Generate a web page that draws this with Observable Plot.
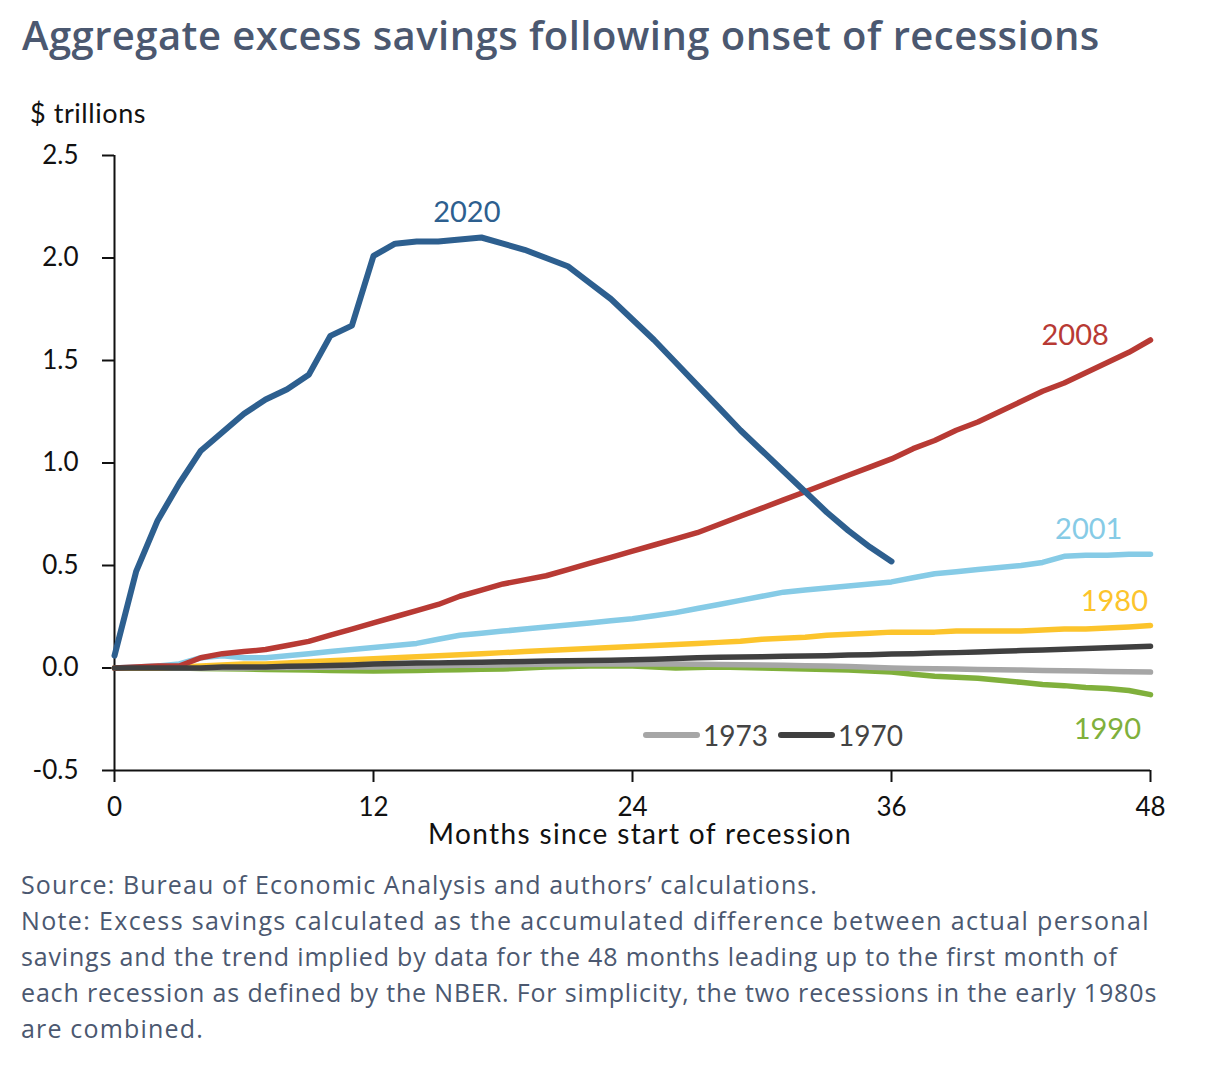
<!DOCTYPE html>
<html>
<head>
<meta charset="utf-8">
<script src="https://cdn.jsdelivr.net/npm/d3@7"></script>
<script src="https://cdn.jsdelivr.net/npm/@observablehq/plot@0.6"></script>
<style>
  html, body { margin: 0; padding: 0; background: #fff; }
  body { width: 1216px; height: 1074px; position: relative; overflow: hidden; font-family: Lato, "Noto Sans", sans-serif; }
  .abs { position: absolute; white-space: nowrap; }
  .fit { display: inline-block; white-space: nowrap; }
  #title { left: 22px; top: 10px; font-family: "Open Sans", Lato, sans-serif; font-size: 40px; font-weight: 600; color: #4b5870; line-height: 50px; }
  #ylab { left: 30px; top: 97px; font-size: 27px; color: #111; line-height: 32px; }
  #xlab { left: 428px; top: 816px; font-size: 28px; color: #111; line-height: 34px; }
  #caption { left: 21px; top: 866px; font-family: "Open Sans", Lato, sans-serif; font-size: 25px; color: #4b5870; line-height: 36px; }
  #caption .fit { display: block; width: max-content; }
  #legend { left: 643px; top: 718px; font-size: 28px; color: #444; line-height: 34px; display: flex; align-items: center; }
  .sw { display: inline-block; width: 57px; height: 6px; border-radius: 3px; }
  #chart { position: absolute; left: 0; top: 140px; }
</style>
</head>
<body>
<div id="title" class="abs"><span class="fit" data-w="1078">Aggregate excess savings following onset of recessions</span></div>
<div id="ylab" class="abs"><span class="fit" data-w="116">$ trillions</span></div>
<div id="chart"></div>
<div id="xlab" class="abs"><span class="fit" data-w="424">Months since start of recession</span></div>
<div id="legend" class="abs"><span class="sw" style="background:#a6a6a6"></span><span style="margin:0 10px 0 3px">1973</span><span class="sw" style="background:#404040"></span><span style="margin-left:3px">1970</span></div>
<div id="caption" class="abs"><span class="fit" data-w="797">Source: Bureau of Economic Analysis and authors’ calculations.</span><span class="fit" data-w="1129">Note: Excess savings calculated as the accumulated difference between actual personal</span><span class="fit" data-w="1097">savings and the trend implied by data for the 48 months leading up to the first month of</span><span class="fit" data-w="1136">each recession as defined by the NBER. For simplicity, the two recessions in the early 1980s</span><span class="fit" data-w="183">are combined.</span></div>
<script>
// Months since start of recession (0..48)
const months = d3.range(0, 49);
const xTicks = [0, 12, 24, 36, 48];
const yTicks = [-0.5, 0, 0.5, 1.0, 1.5, 2.0, 2.5];

// $ trillions
const s2020 = [0.06,0.47,0.72,0.90,1.06,1.15,1.24,1.31,1.36,1.43,1.62,1.67,2.01,2.07,2.08,2.08,2.09,2.10,2.07,2.04,2.00,1.96,1.88,1.80,1.70,1.60,1.49,1.38,1.27,1.16,1.06,0.96,0.86,0.76,0.67,0.59,0.52];
const s2008 = [0,0.005,0.01,0.01,0.05,0.07,0.08,0.09,0.11,0.13,0.16,0.19,0.22,0.25,0.28,0.31,0.35,0.38,0.41,0.43,0.45,0.48,0.51,0.54,0.57,0.60,0.63,0.66,0.70,0.74,0.78,0.82,0.86,0.90,0.94,0.98,1.02,1.07,1.11,1.16,1.20,1.25,1.30,1.35,1.39,1.44,1.49,1.54,1.60];
const s2001 = [0,0.005,0.01,0.02,0.05,0.06,0.05,0.05,0.06,0.07,0.08,0.09,0.10,0.11,0.12,0.14,0.16,0.17,0.18,0.19,0.20,0.21,0.22,0.23,0.24,0.255,0.27,0.29,0.31,0.33,0.35,0.37,0.38,0.39,0.40,0.41,0.42,0.44,0.46,0.47,0.48,0.49,0.50,0.515,0.545,0.55,0.55,0.555,0.555];
const s1980 = [0,0,0,0.005,0.01,0.015,0.02,0.02,0.025,0.03,0.035,0.04,0.045,0.05,0.055,0.06,0.065,0.07,0.075,0.08,0.085,0.09,0.095,0.10,0.105,0.11,0.115,0.12,0.125,0.13,0.14,0.145,0.15,0.16,0.165,0.17,0.175,0.175,0.175,0.18,0.18,0.18,0.18,0.185,0.19,0.19,0.195,0.20,0.207];
const s1970 = [0,0,0,0,0,0.005,0.005,0.005,0.008,0.01,0.012,0.015,0.02,0.022,0.024,0.025,0.027,0.028,0.03,0.032,0.034,0.035,0.037,0.038,0.04,0.043,0.046,0.05,0.052,0.054,0.055,0.057,0.058,0.06,0.063,0.065,0.068,0.07,0.073,0.075,0.078,0.082,0.085,0.088,0.092,0.095,0.099,0.103,0.106];
const s1973 = [0,0,0,0,0,0,0,0.002,0.003,0.004,0.004,0.005,0.005,0.007,0.009,0.011,0.013,0.014,0.015,0.017,0.018,0.019,0.02,0.02,0.02,0.02,0.019,0.018,0.017,0.016,0.015,0.013,0.011,0.01,0.007,0.004,0,-0.002,-0.004,-0.005,-0.007,-0.008,-0.01,-0.012,-0.013,-0.015,-0.017,-0.018,-0.02];
const s1990 = [0,0,0,0,-0.002,-0.004,-0.005,-0.007,-0.009,-0.01,-0.012,-0.014,-0.015,-0.014,-0.012,-0.01,-0.008,-0.006,-0.005,0,0.005,0.007,0.01,0.01,0.01,0.005,0,0.003,0.005,0.002,0,-0.002,-0.005,-0.007,-0.01,-0.015,-0.02,-0.03,-0.04,-0.045,-0.05,-0.06,-0.07,-0.08,-0.086,-0.095,-0.10,-0.11,-0.13];

const seriesNames = ["1990", "1973", "2001", "1980", "2008", "1970", "2020"];
const seriesValues = [s1990, s1973, s2001, s1980, s2008, s1970, s2020];
const colors = {"2020": "#2d5f8f", "2008": "#b83a34", "2001": "#86cbe6", "1980": "#fcc42c", "1990": "#80b03c", "1973": "#a6a6a6", "1970": "#404040"};

const rows = [];
seriesNames.forEach((name, i) => {
  seriesValues[i].forEach((v, j) => rows.push({series: name, month: months[j], value: v}));
});

// Direct labels, each anchored to a point of its own series, then nudged
const labelSpecs = [
  {series: "2020", month: 16, dx: 7, dy: -27},
  {series: "2008", month: 44, dx: 11, dy: -47},
  {series: "2001", month: 45, dx: 3, dy: -26},
  {series: "1980", month: 46, dx: 7, dy: -26},
  {series: "1990", month: 46, dx: 0, dy: 41}
];
const labelMarks = labelSpecs.map(s => {
  const r = rows.filter(d => d.series === s.series && d.month === s.month);
  return Plot.text(r, {x: "month", y: "value", text: "series", dx: s.dx, dy: s.dy, fill: colors[s.series], fontSize: 29});
});

const chart = Plot.plot({
  width: 1216,
  height: 720,
  marginTop: 15,
  marginBottom: 90,
  marginLeft: 114,
  marginRight: 66,
  style: {fontFamily: "Lato, 'Noto Sans', sans-serif", background: "transparent", overflow: "visible"},
  x: {domain: [0, 48]},
  y: {domain: [-0.5, 2.5]},
  marks: [
    Plot.axisY({ticks: yTicks, tickSize: 12, tickPadding: 24, fontSize: 26, stroke: "#111", strokeWidth: 2, tickFormat: d => d.toFixed(1).replace("−", "-"), label: null, fill: "#111"}),
    Plot.axisX({ticks: xTicks, tickSize: 12, tickPadding: 15, fontSize: 26, stroke: "#111", strokeWidth: 2, tickFormat: d => String(d), label: null, fill: "#111"}),
    Plot.ruleX([0], {stroke: "#111", strokeWidth: 2}),
    Plot.ruleY([-0.5], {stroke: "#111", strokeWidth: 2}),
    ...seriesNames.map(name => Plot.line(rows.filter(d => d.series === name), {
      x: "month", y: "value", stroke: colors[name], strokeWidth: name === "2020" ? 6 : 5.5, strokeLinejoin: "round", strokeLinecap: "round"
    })),
    ...labelMarks
  ]
});
document.getElementById("chart").appendChild(chart);

// Stretch each text line to the width it has in the reference
document.querySelectorAll(".fit").forEach(el => {
  const target = +el.dataset.w;
  const w = el.getBoundingClientRect().width;
  const n = el.textContent.length;
  el.style.letterSpacing = ((target - w) / n).toFixed(2) + "px";
});
</script>
</body>
</html>
